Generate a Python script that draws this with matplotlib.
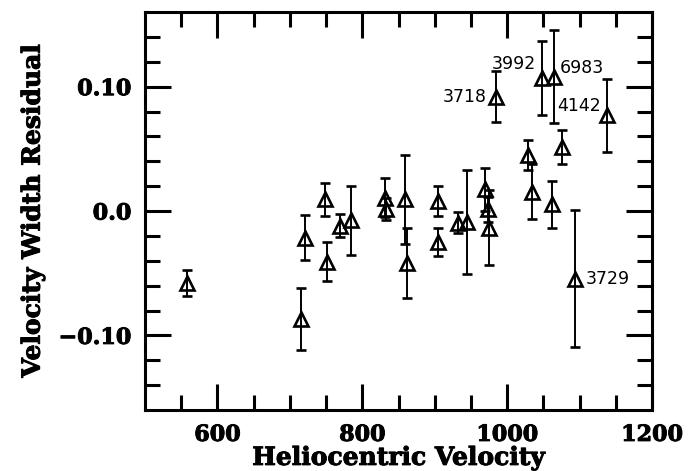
import matplotlib
matplotlib.use("Agg")
import matplotlib.pyplot as plt
import matplotlib.patheffects as pe
import numpy as np

# heliocentric velocity, velocity width residual and its error
vel = [558, 716, 721, 749, 751, 769, 785, 831, 833, 859, 862, 904, 904, 932,
       945, 969, 973, 975, 984, 1029, 1034, 1048, 1062, 1064, 1076, 1094, 1138]
resid = [-0.058, -0.087, -0.0215, 0.0094, -0.0406, -0.0117, -0.0074, 0.0107,
         0.0014, 0.0094, -0.0417, 0.0081, -0.025, -0.0093, -0.0089, 0.0175,
         0.0014, -0.0135, 0.0919, 0.045, 0.0155, 0.107, 0.0054, 0.108, 0.0516,
         -0.0544, 0.0768]
err = [0.0104, 0.025, 0.018, 0.0134, 0.0159, 0.009, 0.0276, 0.0156, 0.0089,
       0.0357, 0.028, 0.012, 0.011, 0.0087, 0.0417, 0.0174, 0.01, 0.030,
       0.0203, 0.0121, 0.022, 0.0296, 0.0188, 0.0376, 0.0138, 0.055, 0.029]

# labelled galaxies (index into the arrays above)
names = ["3718", "3992", "6983", "4142", "3729"]
name_idx = [18, 21, 23, 26, 25]
# offsets in pixels and alignment for each label
offs = [(-9, 0, "right"), (-6, 14, "right"), (6, 9, "left"),
        (-6, 9, "right"), (10, 0, "left")]

xticks = [600, 800, 1000, 1200]
yticks = [-0.10, 0.0, 0.10]
ylabels = ["\u22120.10", "0.0", "0.10"]

fig = plt.figure(figsize=(6.97, 4.71), dpi=100)
ax = fig.add_axes([0.208, 0.1295, 0.7275, 0.845])

ax.errorbar(vel, resid, yerr=err, fmt="^", ms=10.5, mfc="none", mec="black",
            mew=1.9, ecolor="black", elinewidth=1.4, capsize=3.5,
            capthick=1.4, color="black")

for n, i, (dx, dy, ha) in zip(names, name_idx, offs):
    ax.annotate(n, (vel[i], resid[i]), xytext=(dx, dy),
                textcoords="offset pixels", ha=ha, va="center",
                fontsize=12.5, family="DejaVu Sans")

ax.set_xlim(500, 1200)
ax.set_ylim(-0.16, 0.16)
ax.set_xticks(xticks)
ax.set_xticks(np.arange(550, 1200, 50), minor=True)
ax.set_yticks(yticks)
ax.set_yticklabels(ylabels)
ax.set_yticks(np.arange(-0.14, 0.15, 0.02), minor=True)

ax.tick_params(which="both", direction="in", top=True, right=True, width=2.2,
               labelsize=16, pad=10)
ax.tick_params(which="major", length=19)
ax.tick_params(which="minor", length=11)
heavy = [pe.withStroke(linewidth=0.7, foreground="black")]
for lab in ax.get_xticklabels() + ax.get_yticklabels():
    lab.set_family("DejaVu Serif")
    lab.set_fontweight("bold")
    lab.set_path_effects(heavy)
for s in ax.spines.values():
    s.set_linewidth(2.2)

ax.set_xlabel("Heliocentric Velocity", family="DejaVu Serif",
              fontweight="bold", fontsize=18, labelpad=0, path_effects=heavy)
ax.set_ylabel("Velocity Width Residual", family="DejaVu Serif",
              fontweight="bold", fontsize=18, labelpad=10, path_effects=heavy)

fig.savefig("out.png", dpi=100)
